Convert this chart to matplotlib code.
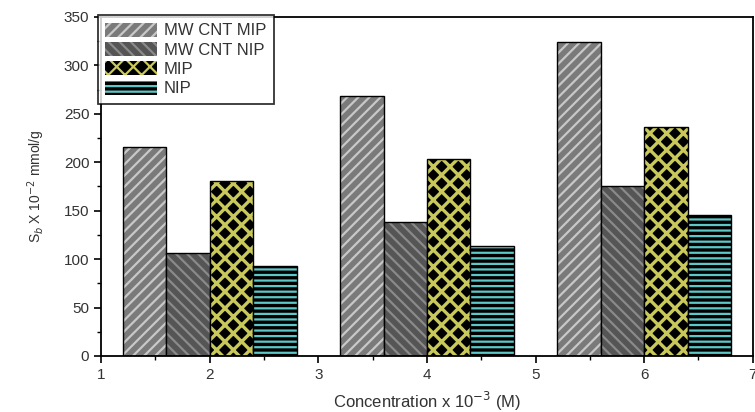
import numpy as np
import matplotlib.pyplot as plt
from matplotlib.ticker import MultipleLocator

plt.rcParams['font.family'] = ['Liberation Sans', 'DejaVu Sans']

# sorption capacity at each concentration
concentration = [2, 4, 6]
series = ['MW CNT MIP', 'MW CNT NIP', 'MIP', 'NIP']
mwcnt_mip = [216, 268, 324]
mwcnt_nip = [106, 138, 175]
mip = [181, 203, 236]
nip = [93, 113, 146]
values = [mwcnt_mip, mwcnt_nip, mip, nip]

# face colour, hatch colour, hatch pattern, hatch width for each series
styles = [
    ('#7a7a7a', '#c8c8c8', '///', 1.6),
    ('#555555', '#8a8a8a', '\\\\\\', 1.6),
    ('black', '#c9c85a', 'xx', 2.4),
    ('black', '#5cc8c8', '---', 1.6),
]

fig = plt.figure(figsize=(7.55, 4.12), dpi=100)
ax = fig.add_axes([0.134, 0.136, 0.863, 0.823])

width = 0.4
offsets = np.array([-1.5, -0.5, 0.5, 1.5]) * width
x = np.array(concentration, dtype=float)
handles = []
for vals, off, label, (fc, hc, hatch, hw) in zip(values, offsets, series, styles):
    plt.rcParams['hatch.linewidth'] = hw
    b = ax.bar(x + off, vals, width, facecolor=fc, edgecolor=hc, hatch=hatch,
               linewidth=0, label=label)
    ax.bar(x + off, vals, width, fill=False, edgecolor='black', linewidth=1.0)
    handles.append(b)

ax.set_xlim(1, 7)
ax.set_ylim(0, 350)
ax.xaxis.set_major_locator(MultipleLocator(1))
ax.xaxis.set_minor_locator(MultipleLocator(0.5))
ax.yaxis.set_major_locator(MultipleLocator(50))
ax.yaxis.set_minor_locator(MultipleLocator(25))
ax.tick_params(which='major', direction='out', length=5, width=1.2, labelsize=11,
               labelcolor='#333333')
ax.tick_params(which='minor', direction='out', length=3, width=1.0)
for s in ax.spines.values():
    s.set_linewidth(1.3)

ax.set_xlabel('Concentration x 10$^{-3}$ (M)', fontsize=12, color='#333333', labelpad=6)
ax.set_ylabel('S$_b$ X 10$^{-2}$ mmol/g', fontsize=10, color='#333333', labelpad=12)

leg = ax.legend(handles=handles, loc='upper left', bbox_to_anchor=(-0.005, 1.005),
                fontsize=12, frameon=True, fancybox=False, edgecolor='black',
                borderpad=0.45, labelspacing=0.22, handlelength=3.1, handleheight=0.9,
                handletextpad=0.4, borderaxespad=0)
leg.get_frame().set_linewidth(1.3)
for t in leg.get_texts():
    t.set_color('#333333')

fig.savefig('out.png', dpi=100)
